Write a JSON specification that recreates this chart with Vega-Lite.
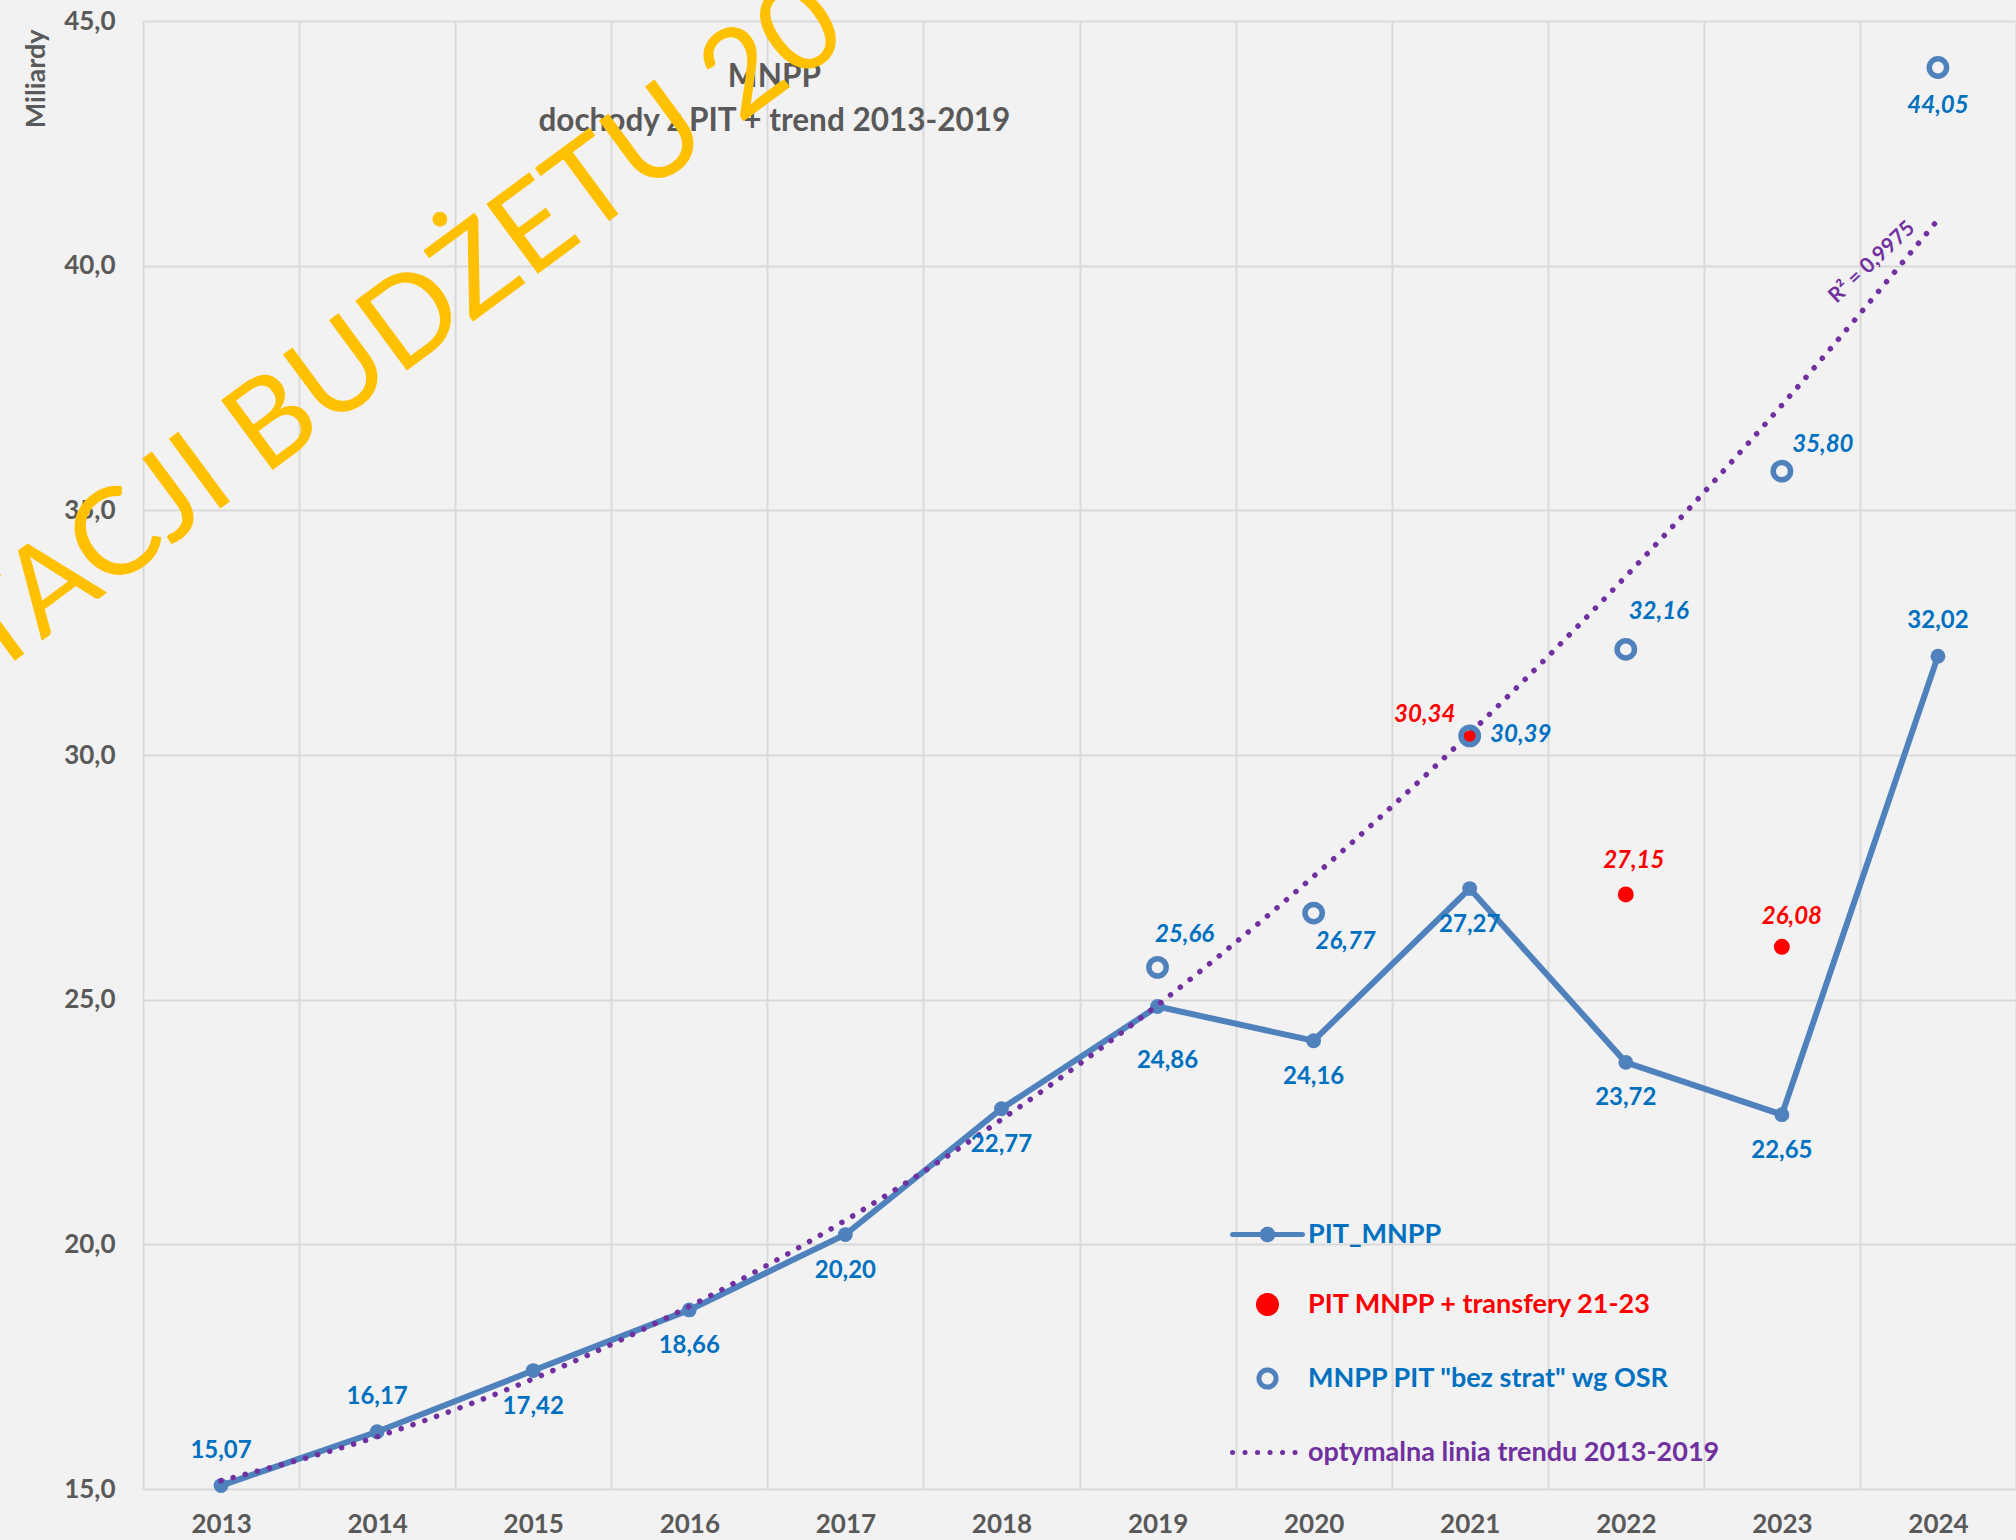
{
  "$schema": "https://vega.github.io/schema/vega-lite/v6.json",
  "autosize": {"type": "none"},
  "padding": {"left": 143, "top": 21, "right": 0, "bottom": 51},
  "width": 1873,
  "height": 1468,
  "background": "#f2f2f2",
  "config": {
    "locale": {"number": {"decimal": ",", "thousands": " ", "grouping": [3], "currency": ["", ""]}},
    "view": {"stroke": null},
    "font": "Lato"
  },
  "datasets": {
    "d": [
      {"year": "2013", "pit": 15.07, "trend": 15.17},
      {"year": "2014", "pit": 16.17, "trend": 16.07},
      {"year": "2015", "pit": 17.42, "trend": 17.25},
      {"year": "2016", "pit": 18.66, "trend": 18.73},
      {"year": "2017", "pit": 20.20, "trend": 20.49},
      {"year": "2018", "pit": 22.77, "trend": 22.55},
      {"year": "2019", "pit": 24.86, "trend": 24.89, "bez": 25.66},
      {"year": "2020", "pit": 24.16, "trend": 27.52, "bez": 26.77},
      {"year": "2021", "pit": 27.27, "trend": 30.44, "bez": 30.39, "transfery": 30.34},
      {"year": "2022", "pit": 23.72, "trend": 33.65, "bez": 32.16, "transfery": 27.15},
      {"year": "2023", "pit": 22.65, "trend": 37.15, "bez": 35.80, "transfery": 26.08},
      {"year": "2024", "pit": 32.02, "trend": 40.94, "bez": 44.05}
    ]
  },
  "data": {"name": "d"},
  "encoding": {
    "x": {
      "field": "year", "type": "ordinal",
      "scale": {"paddingInner": 0, "paddingOuter": 0},
      "axis": {
        "title": null, "tickBand": "extent", "grid": true, "gridColor": "#d9d9d9", "gridWidth": 2,
        "domain": false, "ticks": false, "tickSize": 0, "labelAngle": 0, "labelPadding": 22,
        "labelFont": "Lato", "labelFontSize": 26, "labelFontWeight": "bold", "labelColor": "#595959"
      }
    }
  },
  "layer": [
    {
      "mark": {"type": "line", "strokeWidth": 6, "point": {"filled": true, "size": 220, "opacity": 1}},
      "encoding": {
        "y": {
          "field": "pit", "type": "quantitative", "title": "Miliardy",
          "scale": {"domain": [15, 45], "nice": false, "zero": false},
          "axis": {
            "values": [15, 20, 25, 30, 35, 40, 45], "format": ".1f", "grid": true, "gridColor": "#d9d9d9", "gridWidth": 2,
            "domain": false, "ticks": false, "tickSize": 0, "labelPadding": 28,
            "labelFont": "Lato", "labelFontSize": 26, "labelFontWeight": "bold", "labelColor": "#595959",
            "titleFont": "Lato", "titleFontSize": 27, "titleFontWeight": "bold", "titleColor": "#595959",
            "titleAngle": -90, "titleX": -120, "titleY": 8, "titleAlign": "right", "titleBaseline": "top"
          }
        },
        "color": {
          "datum": "PIT_MNPP", "type": "nominal",
          "scale": {
            "domain": ["PIT_MNPP", "PIT MNPP + transfery 21-23", "MNPP PIT \"bez strat\" wg OSR", "optymalna linia trendu 2013-2019"],
            "range": ["#4f81bd", "#ff0000", "#4f81bd", "#7030a0"]
          },
          "legend": {
            "title": null, "orient": "none", "legendX": 1087, "legendY": 1176, "padding": 0,
            "symbolSize": 4900, "rowPadding": 17, "labelOffset": 3, "labelLimit": 900,
            "labelFont": "Lato", "labelFontSize": 27, "labelFontWeight": "bold",
            "encode": {
              "symbols": {
                "update": {
                  "shape": {"signal": "indexof(datum.value,'trendu')>=0 ? 'M-1,0H1' : indexof(datum.value,'bez')>=0 ? 'M0.243,0A0.243,0.243 0 1,1 -0.243,0A0.243,0.243 0 1,1 0.243,0ZM0.243,0A0.243,0.243 0 1,0 -0.243,0A0.243,0.243 0 1,0 0.243,0Z' : indexof(datum.value,'transfery')>=0 ? 'M0.257,0A0.257,0.257 0 1,1 -0.257,0A0.257,0.257 0 1,1 0.257,0Z' : 'M-1,0H1M0.15,0A0.15,0.15 0 1,1 -0.15,0A0.15,0.15 0 1,1 0.15,0Z'"},
                  "fill": {"signal": "indexof(datum.value,'trendu')>=0 ? 'transparent' : indexof(datum.value,'bez')>=0 ? 'transparent' : indexof(datum.value,'transfery')>=0 ? '#ff0000' : '#4f81bd'"},
                  "stroke": {"signal": "indexof(datum.value,'trendu')>=0 ? '#7030a0' : indexof(datum.value,'transfery')>=0 ? 'transparent' : '#4f81bd'"},
                  "strokeWidth": {"value": 5},
                  "strokeDash": {"signal": "indexof(datum.value,'trendu')>=0 ? [0.1,12.4] : [1,0]"},
                  "strokeCap": {"value": "round"},
                  "opacity": {"value": 1},
                  "fillOpacity": {"value": 1},
                  "strokeOpacity": {"value": 1},
                  "size": {"value": 4900}
                }
              },
              "labels": {
                "update": {
                  "fill": {"signal": "indexof(datum.value,'trendu')>=0 ? '#7030a0' : indexof(datum.value,'transfery')>=0 ? '#ff0000' : '#0070c0'"}
                }
              }
            }
          }
        }
      }
    },
    {
      "mark": {"type": "line", "strokeWidth": 5.5, "strokeDash": [0.1, 12.4], "strokeCap": "round", "interpolate": "monotone"},
      "encoding": {
        "y": {"field": "trend", "type": "quantitative", "title": "Miliardy"},
        "color": {"datum": "optymalna linia trendu 2013-2019", "type": "nominal"}
      }
    },
    {
      "mark": {"type": "point", "shape": "circle", "filled": true, "size": 254, "opacity": 1},
      "encoding": {
        "y": {"field": "transfery", "type": "quantitative", "title": "Miliardy"},
        "color": {"datum": "PIT MNPP + transfery 21-23", "type": "nominal"}
      }
    },
    {
      "mark": {"type": "point", "shape": "circle", "filled": false, "strokeWidth": 5.5, "size": 300, "opacity": 1},
      "encoding": {
        "y": {"field": "bez", "type": "quantitative", "title": "Miliardy"},
        "color": {"datum": "MNPP PIT \"bez strat\" wg OSR", "type": "nominal"}
      }
    },
    {
      "transform": [{"filter": {"field": "year", "oneOf": ["2015", "2016", "2017", "2018", "2020", "2021", "2022", "2023"]}}],
      "mark": {"type": "text", "fill": "#0070c0", "font": "Lato", "fontSize": 24, "fontWeight": "bold", "baseline": "middle", "dy": 36},
      "encoding": {
        "y": {"field": "pit", "type": "quantitative", "title": "Miliardy"},
        "text": {"field": "pit", "type": "quantitative", "format": ".2f"}
      }
    },
    {
      "transform": [{"filter": {"field": "year", "oneOf": ["2019"]}}],
      "mark": {"type": "text", "fill": "#0070c0", "font": "Lato", "fontSize": 24, "fontWeight": "bold", "baseline": "middle", "dy": 54, "dx": 10},
      "encoding": {
        "y": {"field": "pit", "type": "quantitative", "title": "Miliardy"},
        "text": {"field": "pit", "type": "quantitative", "format": ".2f"}
      }
    },
    {
      "transform": [{"filter": {"field": "year", "oneOf": ["2013", "2014", "2024"]}}],
      "mark": {"type": "text", "fill": "#0070c0", "font": "Lato", "fontSize": 24, "fontWeight": "bold", "baseline": "middle", "dy": -35},
      "encoding": {
        "y": {"field": "pit", "type": "quantitative", "title": "Miliardy"},
        "text": {"field": "pit", "type": "quantitative", "format": ".2f"}
      }
    },
    {
      "transform": [{"filter": {"field": "year", "oneOf": ["2019"]}}],
      "mark": {"type": "text", "fill": "#0070c0", "font": "Lato", "fontSize": 24, "fontWeight": "bold", "fontStyle": "italic", "baseline": "middle", "dx": 27, "dy": -32},
      "encoding": {
        "y": {"field": "bez", "type": "quantitative", "title": "Miliardy"},
        "text": {"field": "bez", "type": "quantitative", "format": ".2f"}
      }
    },
    {
      "transform": [{"filter": {"field": "year", "oneOf": ["2020"]}}],
      "mark": {"type": "text", "fill": "#0070c0", "font": "Lato", "fontSize": 24, "fontWeight": "bold", "fontStyle": "italic", "baseline": "middle", "dx": 32, "dy": 29},
      "encoding": {
        "y": {"field": "bez", "type": "quantitative", "title": "Miliardy"},
        "text": {"field": "bez", "type": "quantitative", "format": ".2f"}
      }
    },
    {
      "transform": [{"filter": {"field": "year", "oneOf": ["2021"]}}],
      "mark": {"type": "text", "fill": "#0070c0", "font": "Lato", "fontSize": 24, "fontWeight": "bold", "fontStyle": "italic", "baseline": "middle", "dx": 51, "dy": -1},
      "encoding": {
        "y": {"field": "bez", "type": "quantitative", "title": "Miliardy"},
        "text": {"field": "bez", "type": "quantitative", "format": ".2f"}
      }
    },
    {
      "transform": [{"filter": {"field": "year", "oneOf": ["2022"]}}],
      "mark": {"type": "text", "fill": "#0070c0", "font": "Lato", "fontSize": 24, "fontWeight": "bold", "fontStyle": "italic", "baseline": "middle", "dx": 33, "dy": -37},
      "encoding": {
        "y": {"field": "bez", "type": "quantitative", "title": "Miliardy"},
        "text": {"field": "bez", "type": "quantitative", "format": ".2f"}
      }
    },
    {
      "transform": [{"filter": {"field": "year", "oneOf": ["2023"]}}],
      "mark": {"type": "text", "fill": "#0070c0", "font": "Lato", "fontSize": 24, "fontWeight": "bold", "fontStyle": "italic", "baseline": "middle", "dx": 41, "dy": -26},
      "encoding": {
        "y": {"field": "bez", "type": "quantitative", "title": "Miliardy"},
        "text": {"field": "bez", "type": "quantitative", "format": ".2f"}
      }
    },
    {
      "transform": [{"filter": {"field": "year", "oneOf": ["2024"]}}],
      "mark": {"type": "text", "fill": "#0070c0", "font": "Lato", "fontSize": 24, "fontWeight": "bold", "fontStyle": "italic", "baseline": "middle", "dx": 0, "dy": 39},
      "encoding": {
        "y": {"field": "bez", "type": "quantitative", "title": "Miliardy"},
        "text": {"field": "bez", "type": "quantitative", "format": ".2f"}
      }
    },
    {
      "transform": [{"filter": {"field": "year", "oneOf": ["2021"]}}],
      "mark": {"type": "text", "fill": "#ff0000", "font": "Lato", "fontSize": 24, "fontWeight": "bold", "fontStyle": "italic", "baseline": "middle", "dx": -45, "dy": -23},
      "encoding": {
        "y": {"field": "transfery", "type": "quantitative", "title": "Miliardy"},
        "text": {"field": "transfery", "type": "quantitative", "format": ".2f"}
      }
    },
    {
      "transform": [{"filter": {"field": "year", "oneOf": ["2022"]}}],
      "mark": {"type": "text", "fill": "#ff0000", "font": "Lato", "fontSize": 24, "fontWeight": "bold", "fontStyle": "italic", "baseline": "middle", "dx": 8, "dy": -33},
      "encoding": {
        "y": {"field": "transfery", "type": "quantitative", "title": "Miliardy"},
        "text": {"field": "transfery", "type": "quantitative", "format": ".2f"}
      }
    },
    {
      "transform": [{"filter": {"field": "year", "oneOf": ["2023"]}}],
      "mark": {"type": "text", "fill": "#ff0000", "font": "Lato", "fontSize": 24, "fontWeight": "bold", "fontStyle": "italic", "baseline": "middle", "dx": 10, "dy": -30},
      "encoding": {
        "y": {"field": "transfery", "type": "quantitative", "title": "Miliardy"},
        "text": {"field": "transfery", "type": "quantitative", "format": ".2f"}
      }
    },
    {
      "data": {"values": [{}]},
      "mark": {"type": "text", "fill": "#595959", "font": "Lato", "fontSize": 31.5, "fontWeight": "bold", "baseline": "middle", "lineHeight": 44, "dx": -71},
      "encoding": {
        "x": {"datum": "2017", "type": "ordinal"},
        "y": {"datum": 43.83, "type": "quantitative"},
        "text": {"value": ["MNPP", "dochody z PIT + trend 2013-2019"]}
      }
    },
    {
      "data": {"values": [{}]},
      "mark": {"type": "text", "fill": "#7030a0", "font": "Lato", "fontSize": 21, "fontWeight": "bold", "baseline": "middle", "angle": -43, "dx": -90},
      "encoding": {
        "x": {"datum": "2024", "type": "ordinal"},
        "y": {"datum": 41.32, "type": "quantitative"},
        "text": {"value": "R² = 0,9975"}
      }
    },
    {
      "data": {"values": [{}]},
      "mark": {"type": "text", "fill": "#ffc000", "font": "Lato", "fontSize": 121, "fontWeight": "normal", "baseline": "middle", "align": "center", "angle": -36.5, "dx": 15, "dy": 18},
      "encoding": {
        "x": {"datum": "2014", "type": "ordinal"},
        "y": {"datum": 38.78, "type": "quantitative"},
        "text": {"value": "TACJI BUDŻETU 20"}
      }
    }
  ]
}
